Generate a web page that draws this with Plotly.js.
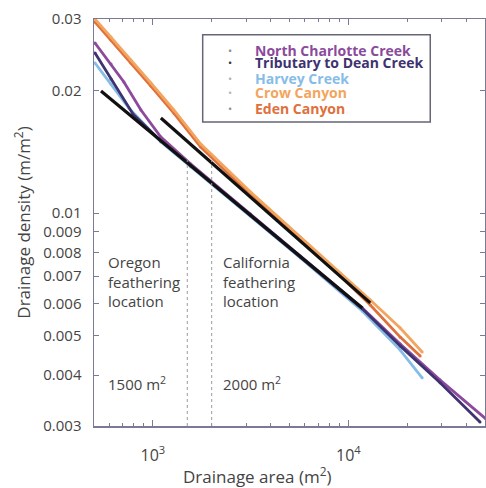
<!DOCTYPE html>
<html>
<head>
<meta charset="utf-8">
<script src="https://cdn.plot.ly/plotly-3.0.1.min.js"></script>
<style>html,body{margin:0;padding:0;background:#fff;}#chart{width:486px;height:488px;}</style>
</head>
<body>
<div id="chart"></div>
<script>
// ---- data (drainage area m^2, drainage density m/m^2) ----
const seriesNames = ['North Charlotte Creek', 'Tributary to Dean Creek', 'Harvey Creek', 'Crow Canyon', 'Eden Canyon'];
const seriesColors = ['#8b4a9c', '#3f3270', '#86bde6', '#f2a55e', '#e0703c'];
const bulletColors = ['#8a8a8a', '#333333', '#b0b0c0', '#b8b8b8', '#909090'];

const ncArea = [506, 611, 711, 869, 1099, 1563, 3162, 5690, 11790, 18420, 29470, 50600];
const ncDensity = [0.02618, 0.02325, 0.02101, 0.01793, 0.01539, 0.01321, 0.00995, 0.00785, 0.00585, 0.00477, 0.00389, 0.00312];

const tribArea = [506, 611, 791, 1099, 1563, 3162, 5690, 11790, 18420, 29470, 47150];
const tribDensity = [0.02474, 0.02137, 0.01753, 0.01504, 0.01306, 0.00990, 0.00780, 0.00582, 0.00472, 0.00383, 0.00307];

const harveyArea = [506, 611, 754, 1099, 1563, 3162, 5690, 11790, 18420, 23850];
const harveyDensity = [0.02339, 0.02077, 0.01813, 0.01496, 0.01299, 0.00984, 0.00776, 0.00575, 0.00461, 0.00394];

const crowArea = [506, 611, 772, 977, 1280, 1758, 3162, 5690, 9104, 12950, 18420, 23850];
const crowDensity = [0.0300, 0.02709, 0.02379, 0.02089, 0.01793, 0.01479, 0.01127, 0.00874, 0.00713, 0.00612, 0.00522, 0.00456];

const edenArea = [506, 611, 772, 977, 1280, 1758, 3162, 5690, 9104, 12950, 18420, 23300];
const edenDensity = [0.0295, 0.02664, 0.02339, 0.02054, 0.01762, 0.01454, 0.01108, 0.00859, 0.00701, 0.00595, 0.00496, 0.00446];

const oregonFitArea = [543, 11790];
const oregonFitDensity = [0.01996, 0.00585];
const californiaFitArea = [1099, 12950];
const californiaFitDensity = [0.01714, 0.00602];

const featherAreas = [1500, 2000];
const featherTopDensity = 0.0135;

const yTickVals = [0.003, 0.004, 0.005, 0.006, 0.007, 0.008, 0.009, 0.01, 0.02, 0.03];
const yTickText = ['0.003', '0.004', '0.005', '0.006', '0.007', '0.008', '0.009', '0.01', '0.02', '0.03'];
const xTickVals = [1000, 10000];
const xTickText = ['10<sup>3</sup>', '10<sup>4</sup>'];
const xMinorVals = [600, 700, 800, 900, 2000, 3000, 4000, 5000, 6000, 7000, 8000, 9000, 20000, 30000, 40000];

// ---- traces ----
const seriesArea = [ncArea, tribArea, harveyArea, crowArea, edenArea];
const seriesDensity = [ncDensity, tribDensity, harveyDensity, crowDensity, edenDensity];
const drawOrder = [2, 0, 1, 4, 3];
const traces = [];
drawOrder.forEach(i => {
  traces.push({
    x: seriesArea[i], y: seriesDensity[i], name: seriesNames[i],
    mode: 'lines+markers', showlegend: false,
    line: {color: seriesColors[i], width: 2.8},
    marker: {color: seriesColors[i], size: 3}
  });
});
traces.push({x: oregonFitArea, y: oregonFitDensity, mode: 'lines', showlegend: false,
  line: {color: '#111111', width: 3.2}});
traces.push({x: californiaFitArea, y: californiaFitDensity, mode: 'lines', showlegend: false,
  line: {color: '#111111', width: 3.2}});

const font = 'Open Sans, Lato, sans-serif';
const txtColor = '#444444';

// feathering lines
const shapes = featherAreas.map(a => ({
  type: 'line', xref: 'x', yref: 'y', x0: a, x1: a, y0: 0.003, y1: featherTopDensity,
  line: {color: '#9a9a9a', width: 1, dash: 'dot'}
}));
// legend frame
shapes.push({type: 'rect', xref: 'paper', yref: 'paper', x0: 0.278, x1: 0.86, y0: 0.747, y1: 0.961,
  line: {color: '#666677', width: 1.5}, fillcolor: 'rgba(255,255,255,0)'});

const annotations = [];
const legendY = [0.9238, 0.8919, 0.855, 0.8182, 0.7789];
seriesNames.forEach((n, i) => {
  annotations.push({xref: 'paper', yref: 'paper', x: 0.4056, y: legendY[i], xanchor: 'left', yanchor: 'middle',
    text: n, showarrow: false, font: {family: font, size: 14, weight: 700, color: seriesColors[i]}});
  annotations.push({xref: 'paper', yref: 'paper', x: 0.347, y: legendY[i], xanchor: 'center', yanchor: 'middle',
    text: '•', showarrow: false, font: {family: font, size: 11, color: bulletColors[i]}});
});
annotations.push({xref: 'paper', yref: 'paper', x: 0.031, y: 0.355, xanchor: 'left', yanchor: 'middle', align: 'left',
  text: 'Oregon<br>feathering<br>location', showarrow: false, font: {family: font, size: 15, color: txtColor}});
annotations.push({xref: 'paper', yref: 'paper', x: 0.324, y: 0.355, xanchor: 'left', yanchor: 'middle', align: 'left',
  text: 'California<br>feathering<br>location', showarrow: false, font: {family: font, size: 15, color: txtColor}});
annotations.push({xref: 'paper', yref: 'paper', x: 0.031, y: 0.105, xanchor: 'left', yanchor: 'middle',
  text: '1500 m<sup>2</sup>', showarrow: false, font: {family: font, size: 15, color: txtColor}});
annotations.push({xref: 'paper', yref: 'paper', x: 0.324, y: 0.105, xanchor: 'left', yanchor: 'middle',
  text: '2000 m<sup>2</sup>', showarrow: false, font: {family: font, size: 15, color: txtColor}});
// x-axis title (offset left like the original)
annotations.push({xref: 'paper', yref: 'paper', x: 0.418, y: -0.122, xanchor: 'center', yanchor: 'middle',
  text: 'Drainage area (m<sup>2</sup>)', showarrow: false, font: {family: font, size: 17, color: txtColor}});

const axisColor = '#7a7a96';
const layout = {
  width: 486, height: 488,
  margin: {l: 94, r: 1, t: 19, b: 62},
  paper_bgcolor: '#ffffff', plot_bgcolor: '#ffffff',
  showlegend: false,
  font: {family: font, color: txtColor},
  xaxis: {
    type: 'log', range: [Math.log10(500), Math.log10(50000)],
    tickmode: 'array', tickvals: xTickVals, ticktext: xTickText,
    ticks: 'inside', ticklen: 6, tickcolor: axisColor, tickwidth: 1,
    minor: {tickmode: 'array', tickvals: xMinorVals, ticks: 'inside', ticklen: 3, tickcolor: axisColor},
    showline: true, linecolor: axisColor, linewidth: 1.5, mirror: 'ticks',
    showgrid: false, zeroline: false,
    tickfont: {family: font, size: 16, color: txtColor}, ticklabelstandoff: 14
  },
  yaxis: {
    type: 'log', range: [Math.log10(0.003), Math.log10(0.03)],
    tickmode: 'array', tickvals: yTickVals, ticktext: yTickText,
    ticks: 'inside', ticklen: 5, tickcolor: axisColor, tickwidth: 1,
    showline: true, linecolor: axisColor, linewidth: 1.5, mirror: 'ticks',
    showgrid: false, zeroline: false,
    tickfont: {family: font, size: 15, color: txtColor}, ticklabelstandoff: 8,
    title: {text: 'Drainage density (m/m<sup>2</sup>)', font: {family: font, size: 17, color: txtColor}, standoff: 8}
  },
  shapes: shapes,
  annotations: annotations
};

Plotly.newPlot('chart', traces, layout, {displayModeBar: false, staticPlot: true});
</script>
</body>
</html>
